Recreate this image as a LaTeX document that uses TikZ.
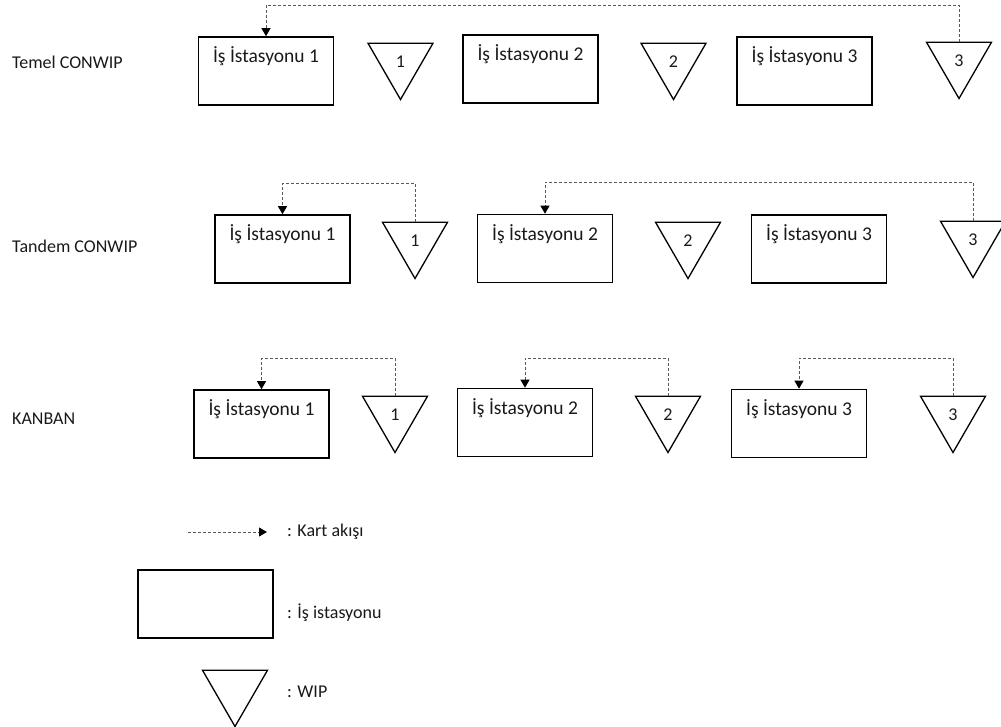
\documentclass[tikz,border=0pt]{standalone}
\usepackage{fontspec}
\setmainfont{Carlito}
\usetikzlibrary{arrows.meta,shapes.geometric}
\begin{document}
\begin{tikzpicture}[x=1pt,y=-1pt,
  every node/.style={font=\fontsize{18}{21}\selectfont, text=black!90},
  station/.style={draw=black, line width=1.6pt, minimum width=135pt,
    minimum height=68pt, inner sep=0pt},
  stext/.style={inner sep=0pt, font=\fontsize{19.5}{23}\selectfont},
  wip/.style={draw=black, line width=1.3pt, regular polygon,
    regular polygon sides=3, shape border rotate=180, minimum size=75pt,
    inner sep=0pt},
  card/.style={draw=black!65, line width=0.9pt, dash pattern=on 3pt off 2pt,
    -{Triangle[width=9pt,length=8pt,color=black]}},
  rowlabel/.style={anchor=west, inner sep=0pt},
  legtext/.style={anchor=west, inner sep=0pt}
]
\useasboundingbox (0,0) rectangle (1001,726);

% row labels
\node[rowlabel] (l1) at (12,62) {Temel CONWIP};
\node[rowlabel] (l2) at (12,246) {Tandem CONWIP};
\node[rowlabel] (l3) at (12,419) {KANBAN};

% ---- Temel CONWIP ----
\node[station] (b11) at (266,71) {};
\node[stext] (b11t) at ([yshift=-20pt]b11.north) {İş İstasyonu 1};
\node[wip] (t11) at (400.5,62) {1};
\node[station] (b12) at (530.5,69) {};
\node[stext] (b12t) at ([yshift=-20pt]b12.north) {İş İstasyonu 2};
\node[wip] (t12) at (673.5,62) {2};
\node[station] (b13) at (804.5,71) {};
\node[stext] (b13t) at ([yshift=-20pt]b13.north) {İş İstasyonu 3};
\node[wip] (t13) at (959,61) {3};
\coordinate (h1) at (0,5);
\draw[card] (t13.north) -- (t13.north |- h1) -| (b11.north);

% ---- Tandem CONWIP ----
\node[station] (b21) at (282.5,249) {};
\node[stext] (b21t) at ([yshift=-20pt]b21.north) {İş İstasyonu 1};
\node[wip] (t21) at (415,241) {1};
\node[station] (b22) at (545,248.5) {};
\node[stext] (b22t) at ([yshift=-20pt]b22.north) {İş İstasyonu 2};
\node[wip] (t22) at (688,241) {2};
\node[station] (b23) at (819,249) {};
\node[stext] (b23t) at ([yshift=-20pt]b23.north) {İş İstasyonu 3};
\node[wip] (t23) at (973,240) {3};
\coordinate (h21) at (0,183);
\coordinate (h22) at (0,182);
\draw[card] (t21.north) -- (t21.north |- h21) -| (b21.north);
\draw[card] (t23.north) -- (t23.north |- h22) -| (b22.north);

% ---- KANBAN ----
\node[station] (b31) at (261.5,424) {};
\node[stext] (b31t) at ([yshift=-20pt]b31.north) {İş İstasyonu 1};
\node[wip] (t31) at (395,415) {1};
\node[station] (b32) at (525,422.5) {};
\node[stext] (b32t) at ([yshift=-20pt]b32.north) {İş İstasyonu 2};
\node[wip] (t32) at (668,415) {2};
\node[station] (b33) at (799,423.5) {};
\node[stext] (b33t) at ([yshift=-20pt]b33.north) {İş İstasyonu 3};
\node[wip] (t33) at (953,415) {3};
\coordinate (h3) at (0,358);
\draw[card] (t31.north) -- (t31.north |- h3) -| (b31.north);
\draw[card] (t32.north) -- (t32.north |- h3) -| (b32.north);
\draw[card] (t33.north) -- (t33.north |- h3) -| (b33.north);

% ---- legend ----
\coordinate (la) at (188,532);
\coordinate (lb) at (267,532);
\draw[card] (la) -- (lb);
\node[legtext] (lt1) at (287,532) {: Kart akışı};
\node[station] (lbox) at (205.5,604) {};
\node[legtext] (lt2) at (287,613) {: İş istasyonu};
\node[wip] (ltri) at (235,689) {};
\node[legtext] (lt3) at (287,692) {: WIP};
\end{tikzpicture}
\end{document}
